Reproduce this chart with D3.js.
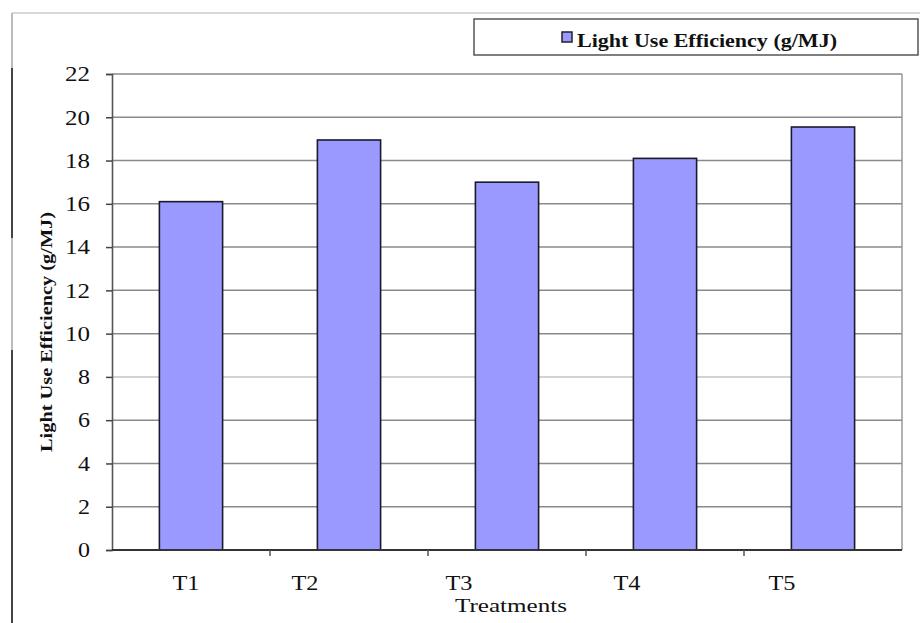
<!DOCTYPE html>
<html>
<head>
<meta charset="utf-8">
<script src="https://cdnjs.cloudflare.com/ajax/libs/d3/7.8.5/d3.min.js"></script>
<style>
  body { margin: 0; background: #fff; }
  svg { display: block; }
  text { font-family: "Liberation Serif", "Times New Roman", serif; fill: #111; }
</style>
</head>
<body>
<div id="chart"></div>
<script>
// data
var treatments = ["T1", "T2", "T3", "T4", "T5"];
var lue = [16.1, 18.95, 17.0, 18.1, 19.55];
var yTicks = [0, 2, 4, 6, 8, 10, 12, 14, 16, 18, 20, 22];
var seriesName = "Light Use Efficiency  (g/MJ)";
var yTitle = "Light Use Efficiency (g/MJ)";
var xTitle = "Treatments";

var W = 920, H = 623;
var plot = {left: 112, right: 902, top: 74, bottom: 550};

var svg = d3.select("#chart").append("svg")
  .attr("width", W)
  .attr("height", H);

// page frame bits (scanned figure edges)
svg.append("line")
  .attr("x1", 12).attr("x2", W).attr("y1", 13).attr("y2", 13)
  .attr("stroke", "#d8d8d8").attr("stroke-width", 2);
svg.append("line")
  .attr("x1", 12).attr("x2", 12).attr("y1", 13).attr("y2", H)
  .attr("stroke", "#bbb").attr("stroke-width", 2);
[[68, 238], [350, H]].forEach(function(s) {
  svg.append("line")
    .attr("x1", 12).attr("x2", 12).attr("y1", s[0]).attr("y2", s[1])
    .attr("stroke", "#444").attr("stroke-width", 2);
});

var x = d3.scaleBand()
  .domain(treatments)
  .range([plot.left, plot.right])
  .paddingInner(0.6)
  .paddingOuter(0.3);

// band for ticks (category boundaries)
var xb = d3.scaleBand()
  .domain(treatments)
  .range([plot.left, plot.right]);

var y = d3.scaleLinear()
  .domain([0, 22])
  .range([plot.bottom, plot.top]);

// gridlines
svg.append("g")
  .selectAll("line")
  .data(yTicks.filter(function(d) { return d > 0; }))
  .enter().append("line")
  .attr("x1", plot.left).attr("x2", plot.right)
  .attr("y1", function(d) { return y(d); })
  .attr("y2", function(d) { return y(d); })
  .attr("stroke", function(d) { return d === 8 ? "#c4c4c4" : "#8a8a8a"; })
  .attr("stroke-width", 1.5);

// right border
svg.append("line")
  .attr("x1", plot.right).attr("x2", plot.right)
  .attr("y1", y(22)).attr("y2", plot.bottom)
  .attr("stroke", "#999").attr("stroke-width", 1.5);

// bars
svg.append("g")
  .selectAll("rect")
  .data(lue)
  .enter().append("rect")
  .attr("x", function(d, i) { return x(treatments[i]); })
  .attr("y", function(d) { return y(d); })
  .attr("width", x.bandwidth())
  .attr("height", function(d) { return y(0) - y(d); })
  .attr("fill", "#9999ff")
  .attr("stroke", "#1a1a2a")
  .attr("stroke-width", 1.6);

// y axis
var yAxis = d3.axisLeft(y)
  .tickValues(yTicks)
  .tickSize(6)
  .tickPadding(16)
  .tickFormat(d3.format("d"));

var yg = svg.append("g")
  .attr("transform", "translate(" + plot.left + ",0)")
  .call(yAxis);
yg.select(".domain").attr("stroke", "#555").attr("stroke-width", 1.6);
yg.selectAll(".tick line").attr("stroke", "#444").attr("stroke-width", 1.5);
yg.selectAll(".tick text")
  .style("font-family", "Liberation Serif, serif")
  .style("font-size", "21px")
  .attr("fill", "#222")
  .attr("textLength", function(d) { return String(d).length > 1 ? 25 : 12; })
  .attr("lengthAdjust", "spacingAndGlyphs");

// x axis: line + ticks at category boundaries
svg.append("line")
  .attr("x1", plot.left).attr("x2", plot.right)
  .attr("y1", plot.bottom).attr("y2", plot.bottom)
  .attr("stroke", "#333").attr("stroke-width", 1.8);

svg.append("g")
  .selectAll("line")
  .data(treatments.slice(1))
  .enter().append("line")
  .attr("x1", function(d) { return xb(d); })
  .attr("x2", function(d) { return xb(d); })
  .attr("y1", plot.bottom).attr("y2", plot.bottom + 6)
  .attr("stroke", "#555").attr("stroke-width", 1.5);

// category labels, nudged left like the original
var nudge = [-5, -44, -48, -38, -41];
svg.append("g")
  .selectAll("text")
  .data(treatments)
  .enter().append("text")
  .attr("x", function(d, i) { return x(d) + x.bandwidth() / 2 + nudge[i]; })
  .attr("y", 590)
  .attr("text-anchor", "middle")
  .attr("textLength", 27)
  .attr("lengthAdjust", "spacingAndGlyphs")
  .style("font-size", "20px")
  .text(function(d) { return d; });

// axis titles
svg.append("text")
  .attr("x", 511).attr("y", 612)
  .attr("text-anchor", "middle")
  .attr("textLength", 112)
  .attr("lengthAdjust", "spacingAndGlyphs")
  .style("font-size", "18px")
  .text(xTitle);

svg.append("text")
  .attr("transform", "translate(52,332) rotate(-90)")
  .attr("text-anchor", "middle")
  .attr("textLength", 240)
  .attr("lengthAdjust", "spacingAndGlyphs")
  .style("font-size", "17px")
  .style("font-weight", "bold")
  .text(yTitle);

// legend
var lg = svg.append("g");
lg.append("rect")
  .attr("x", 474).attr("y", 19)
  .attr("width", 444).attr("height", 36)
  .attr("fill", "#fff")
  .attr("stroke", "#555").attr("stroke-width", 1.5);
lg.append("rect")
  .attr("x", 562).attr("y", 32)
  .attr("width", 10).attr("height", 10)
  .attr("fill", "#9999ff")
  .attr("stroke", "#222").attr("stroke-width", 1.5);
lg.append("text")
  .attr("x", 577).attr("y", 47)
  .attr("textLength", 260)
  .attr("lengthAdjust", "spacingAndGlyphs")
  .style("font-size", "18px")
  .style("font-weight", "bold")
  .text(seriesName);
</script>
</body>
</html>
